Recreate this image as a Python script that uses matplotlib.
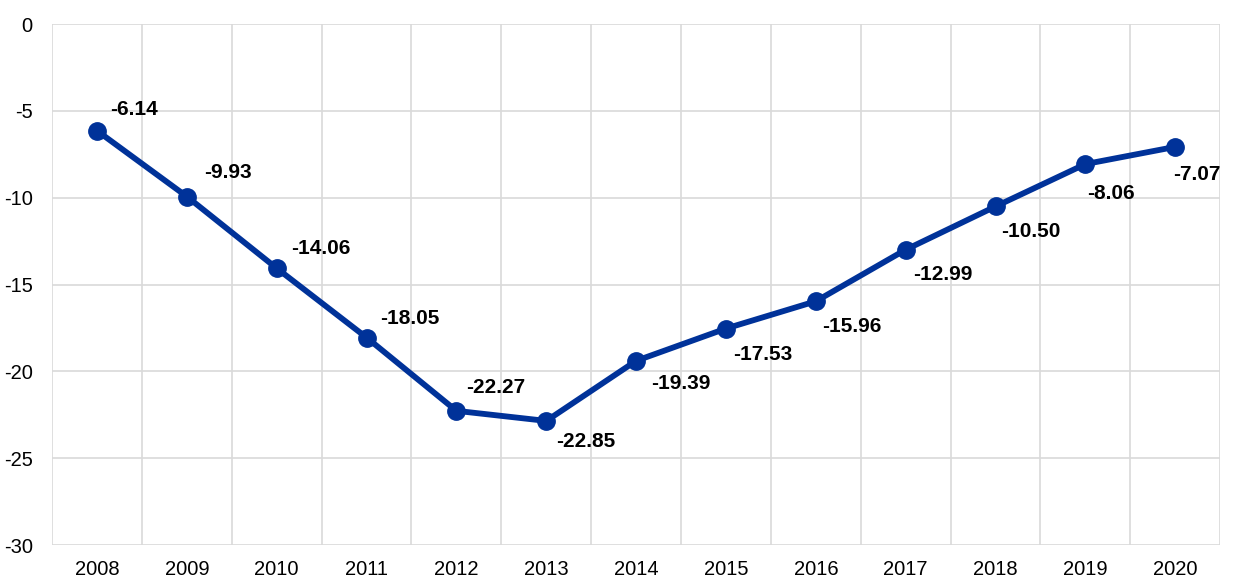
import numpy as np
import matplotlib.pyplot as plt

plt.rcParams['font.family'] = ['Liberation Sans', 'DejaVu Sans']
plt.rcParams['axes.unicode_minus'] = False

years = ["2008", "2009", "2010", "2011", "2012", "2013", "2014",
         "2015", "2016", "2017", "2018", "2019", "2020"]
values = [-6.14, -9.93, -14.06, -18.05, -22.27, -22.85, -19.39,
          -17.53, -15.96, -12.99, -10.50, -8.06, -7.07]

# label placement relative to each point, in pixels (left edge, vertical centre)
label_dx = [13, 17, 14, 14, 10, 10, 15, 7, 6, 7, 6, 2, -2]
label_dy = [21, 24, 20, 19, 23, -21, -23, -26, -25, -25, -25, -29, -28]

fig = plt.figure(figsize=(12.4, 5.88), dpi=100)
ax = fig.add_axes([0.042, 0.073, 0.942, 0.886])

x = np.arange(len(years))
ax.plot(x, values, color="#003299", lw=4.2, marker="o", ms=12.5, zorder=3)

for xi, v, dx, dy in zip(x, values, label_dx, label_dy):
    ax.annotate(f"{v:.2f}", (xi, v), xytext=(dx, dy), textcoords="offset pixels",
                ha="left", va="center", fontsize=15, fontweight="bold", color="black")

ax.set_xlim(-0.5, len(years) - 0.5)
ax.set_ylim(-30, 0)
ax.set_yticks(range(-30, 1, 5))
ax.set_xticks(x)
ax.set_xticklabels(years)
ax.set_xticks(np.arange(-0.5, len(years), 1), minor=True)

ax.grid(True, which="minor", axis="x", color="#d9d9d9", lw=1.2)
ax.grid(True, which="major", axis="y", color="#d9d9d9", lw=1.2)
ax.set_axisbelow(True)
for s in ax.spines.values():
    s.set_visible(False)
ax.tick_params(which="both", length=0, labelsize=14.5)
ax.tick_params(axis="y", pad=14)
ax.tick_params(axis="x", pad=11)

fig.savefig("out.png", dpi=100)
